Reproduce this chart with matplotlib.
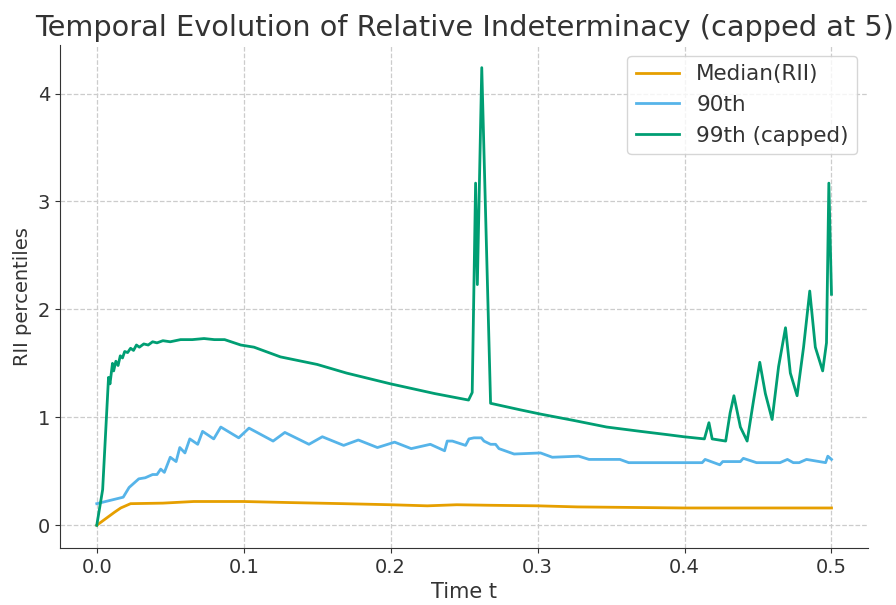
import numpy as np
import matplotlib
matplotlib.use("Agg")
import matplotlib.pyplot as plt

# data
t_med = [0, 0.006, 0.012, 0.0163, 0.023, 0.045, 0.066, 0.1, 0.132, 0.168,
         0.2, 0.225, 0.245, 0.268, 0.3, 0.327, 0.4, 0.5]
med = [0, 0.06, 0.12, 0.16, 0.20, 0.205, 0.22, 0.22, 0.21, 0.20,
       0.19, 0.18, 0.19, 0.185, 0.18, 0.17, 0.16, 0.16]

t_90 = [0, 0.018, 0.022, 0.0286, 0.033, 0.038, 0.041, 0.0435, 0.046, 0.05,
        0.054, 0.0565, 0.06, 0.0633, 0.0687, 0.072, 0.0796, 0.0844, 0.0966, 0.1036,
        0.12, 0.128, 0.1444, 0.1535, 0.168, 0.178, 0.191, 0.2027, 0.214, 0.227,
        0.2367, 0.2385, 0.242, 0.251, 0.2533, 0.2567, 0.2617, 0.2635, 0.268, 0.2714,
        0.2737, 0.284, 0.302, 0.31, 0.328, 0.335, 0.356, 0.362, 0.386, 0.412,
        0.414, 0.42, 0.424, 0.426, 0.438, 0.44, 0.449, 0.465, 0.47, 0.474,
        0.478, 0.483, 0.496, 0.4975, 0.5]
p90 = [0.20, 0.26, 0.35, 0.43, 0.44, 0.47, 0.47, 0.52, 0.49, 0.63,
       0.59, 0.72, 0.67, 0.80, 0.75, 0.87, 0.80, 0.91, 0.81, 0.90,
       0.78, 0.86, 0.75, 0.82, 0.74, 0.79, 0.72, 0.77, 0.71, 0.75,
       0.69, 0.78, 0.78, 0.74, 0.80, 0.81, 0.81, 0.78, 0.75, 0.75,
       0.71, 0.66, 0.67, 0.63, 0.64, 0.61, 0.61, 0.58, 0.58, 0.58,
       0.61, 0.58, 0.56, 0.59, 0.59, 0.62, 0.58, 0.58, 0.61, 0.58,
       0.58, 0.61, 0.58, 0.64, 0.61]

t_99 = [0, 0.004, 0.008, 0.009, 0.0107, 0.0115, 0.013, 0.0145, 0.016, 0.0175,
        0.019, 0.021, 0.023, 0.025, 0.027, 0.029, 0.032, 0.035, 0.038, 0.041,
        0.045, 0.05, 0.057, 0.065, 0.073, 0.08, 0.087, 0.098, 0.107, 0.125,
        0.15, 0.17, 0.2, 0.23, 0.253, 0.2555, 0.2578, 0.259, 0.262, 0.268,
        0.288, 0.302, 0.325, 0.347, 0.37, 0.388, 0.3995, 0.4135, 0.4166, 0.4188,
        0.428, 0.431, 0.4336, 0.438, 0.4426, 0.447, 0.4512, 0.455, 0.4596, 0.464,
        0.4687, 0.472, 0.4766, 0.481, 0.4852, 0.489, 0.494, 0.4966, 0.4982, 0.5]
p99 = [0, 0.33, 1.37, 1.31, 1.50, 1.43, 1.52, 1.48, 1.57, 1.55,
       1.61, 1.60, 1.64, 1.62, 1.67, 1.65, 1.68, 1.67, 1.70, 1.69,
       1.71, 1.70, 1.72, 1.72, 1.73, 1.72, 1.72, 1.67, 1.65, 1.56,
       1.49, 1.41, 1.31, 1.22, 1.16, 1.23, 3.17, 2.23, 4.24, 1.13,
       1.07, 1.03, 0.97, 0.91, 0.87, 0.84, 0.82, 0.80, 0.95, 0.80,
       0.78, 1.04, 1.20, 0.91, 0.78, 1.16, 1.51, 1.22, 0.98, 1.47,
       1.83, 1.41, 1.20, 1.65, 2.17, 1.65, 1.43, 1.69, 3.17, 2.14]

txt = "#333333"
plt.rcParams["text.color"] = txt
plt.rcParams["axes.labelcolor"] = txt
plt.rcParams["xtick.color"] = txt
plt.rcParams["ytick.color"] = txt

fig, ax = plt.subplots(figsize=(8.96, 6.05), dpi=100)
fig.subplots_adjust(left=0.067, right=0.969, bottom=0.094, top=0.926)

ax.plot(t_med, med, color="#E69F00", lw=2, label="Median(RII)")
ax.plot(t_90, p90, color="#56B4E9", lw=2, label="90th")
ax.plot(t_99, p99, color="#009E73", lw=2, label="99th (capped)")

ax.set_title("Temporal Evolution of Relative Indeterminacy (capped at 5)", fontsize=20.7)
ax.set_xlabel("Time t", fontsize=15)
ax.set_ylabel("RII percentiles", fontsize=14)
ax.tick_params(labelsize=14)
ax.set_xticks([0, 0.1, 0.2, 0.3, 0.4, 0.5])
ax.set_yticks([0, 1, 2, 3, 4])
ax.grid(True, linestyle="--", color="#cccccc", linewidth=0.9)
for s in ["top", "right"]:
    ax.spines[s].set_visible(False)
ax.spines["left"].set_color(txt)
ax.spines["bottom"].set_color(txt)

ax.legend(loc="upper right", fontsize=15.5, edgecolor="#cccccc")

plt.savefig("out.png", dpi=100)
